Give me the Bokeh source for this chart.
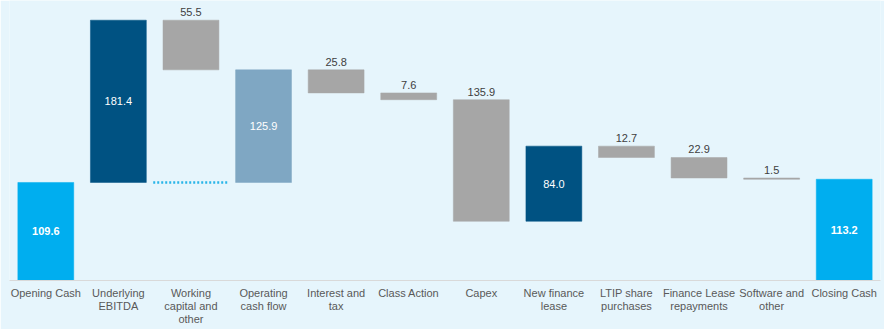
from bokeh.plotting import figure
from bokeh.models import Range1d, FixedTicker, ColumnDataSource
from bokeh.core.properties import value
from bokeh.embed import file_html
from bokeh.resources import INLINE

categories = ["Opening Cash", "Underlying EBITDA", "Working capital and other",
              "Operating cash flow", "Interest and tax", "Class Action", "Capex",
              "New finance lease", "LTIP share purchases", "Finance Lease repayments",
              "Software and other", "Closing Cash"]
tick_labels = ["Opening Cash", "Underlying\nEBITDA", "Working\ncapital and\nother",
               "Operating\ncash flow", "Interest and\ntax", "Class Action", "Capex",
               "New finance\nlease", "LTIP share\npurchases", "Finance Lease\nrepayments",
               "Software and\nother", "Closing Cash"]
values = [109.6, 181.4, -55.5, 125.9, -25.8, -7.6, -135.9, 84.0, -12.7, -22.9, -1.5, 113.2]
kinds = ["total", "up", "down", "subtotal", "down", "down", "down", "up", "down", "down", "down", "total"]

BG = "#e6f5fc"
colors_map = {"total": "#00aeef", "up": "#005282", "down": "#a6a6a6", "subtotal": "#7fa7c3"}

# waterfall computation
bottoms, tops = [], []
level = 0.0
for v, k in zip(values, kinds):
    if k == "total":
        b, t = 0.0, v
        level = v
    elif k == "subtotal":
        b, t = values[0], values[0] + v
        level = t
    elif k == "up":
        b, t = level, level + v
        level = t
    else:
        b, t = level + v, level
        level = b
    bottoms.append(b)
    tops.append(t)

xs = list(range(len(categories)))
src = ColumnDataSource(dict(x=xs, top=tops, bottom=bottoms,
                            color=[colors_map[k] for k in kinds]))

p = figure(width=884, height=329, output_backend="svg", toolbar_location=None,
           x_range=Range1d(-0.5, len(categories) - 0.5), y_range=Range1d(0, 313),
           min_border_left=9, min_border_right=4, min_border_top=0, min_border_bottom=49)
p.background_fill_color = BG
p.border_fill_color = BG
p.outline_line_color = None
p.grid.visible = False
p.yaxis.visible = False

p.vbar(x="x", top="top", bottom="bottom", width=0.77, fill_color="color",
       line_color="color", line_width=0.5, source=src)

# dotted connector across working capital
wi = kinds.index("down")
p.line(x=[wi - 0.52, wi + 0.52], y=[values[0], values[0]], line_color="#29b5e8",
       line_width=2.5, line_dash="2 2")

# labels above 'down' bars
dx = [x for x, k in zip(xs, kinds) if k == "down"]
dy = [t for t, k in zip(tops, kinds) if k == "down"]
dl = ["%.1f" % abs(v) for v, k in zip(values, kinds) if k == "down"]
p.text(x=dx, y=dy, text=dl, text_align="center", text_baseline="bottom", y_offset=-4,
       text_font=value("Liberation Sans"), text_font_size="11px", text_color="#404040")

# labels inside other bars
for style in ["bold", "normal"]:
    sel = [i for i, k in enumerate(kinds) if k != "down" and ((k == "total") == (style == "bold"))]
    p.text(x=[xs[i] for i in sel], y=[(tops[i] + bottoms[i]) / 2 for i in sel],
           text=["%.1f" % values[i] for i in sel], text_align="center", text_baseline="middle",
           text_font=value("Liberation Sans"), text_font_size="11px", text_color="#ffffff",
           text_font_style=style)

ax = p.xaxis[0]
ax.ticker = FixedTicker(ticks=xs)
ax.major_label_overrides = {i: lab for i, lab in zip(xs, tick_labels)}
ax.axis_line_color = "#d9d9d9"
ax.axis_line_width = 1
ax.major_tick_line_color = None
ax.minor_tick_line_color = None
ax.major_tick_out = 0
ax.major_tick_in = 0
ax.minor_tick_out = 0
ax.minor_tick_in = 0
ax.major_label_text_color = "#595959"
ax.major_label_text_font = "Liberation Sans"
ax.major_label_text_font_size = "11px"
ax.major_label_text_line_height = 1.1
ax.major_label_standoff = 6

open("out.html", "w").write(file_html(p, INLINE))
